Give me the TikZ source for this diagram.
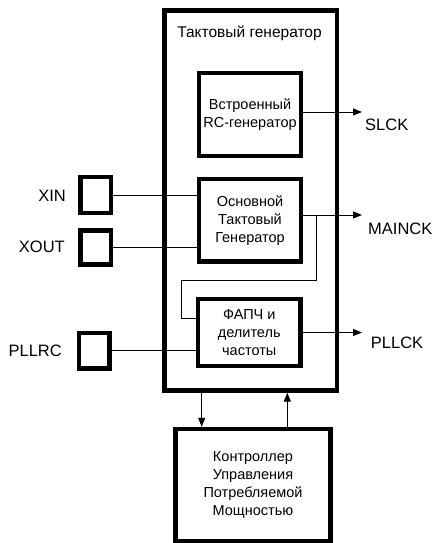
\documentclass[tikz,border=0pt]{standalone}
\usepackage{fontspec}
\setmainfont{Liberation Sans}
\usetikzlibrary{arrows.meta}

\tikzset{
	block/.style={draw, line width=4.3pt, inner sep=0pt, align=center, font=\fontsize{14.5}{18}\selectfont},
	pad/.style={draw, line width=4.3pt, inner sep=0pt, minimum width=30.5pt},
	pin/.style={inner sep=0pt, font=\fontsize{16.5}{20}\selectfont},
	wire/.style={line width=1pt},
	sig/.style={wire, -{Triangle[length=9pt,width=7pt]}}
}

\begin{document}
\begin{tikzpicture}[x=1pt,y=-1pt]
	\useasboundingbox (0,0) rectangle (436,543);
	% clock generator with its blocks
	\node[block, minimum width=172.5pt, minimum height=380pt] (clk) at (250.75,200.5) {};
	\node[font=\fontsize{15.5}{18}\selectfont] (clktitle) at (249.5,33) {Тактовый генератор};
	\node[block, minimum width=102pt, minimum height=83pt] (rc) at (250,114.5) {Встроенный\\RC-генератор};
	\node[block, minimum width=102pt, minimum height=82.5pt] (osc) at (250,220.25) {Основной\\Тактовый\\Генератор};
	\node[block, minimum width=102.5pt, minimum height=67pt] (pll) at (249.25,332.5) {ФАПЧ и\\делитель\\частоты};
	\node[block, minimum width=155pt, minimum height=112pt] (pmc) at (253,485) {Контроллер\\Управления\\Потребляемой\\Мощностью};
	% pads
	\node[pad, minimum height=36pt] (xin) at (95.75,195) {};
	\node[pad, minimum height=34pt] (xout) at (95.75,247.5) {};
	\node[pad, minimum height=35.5pt] (pllrc) at (94.25,350.75) {};
	\node[pin, anchor=east] (xinlabel) at (66,195.5) {XIN};
	\node[pin, anchor=east] (xoutlabel) at (65,247) {XOUT};
	\node[pin, anchor=east] (pllrclabel) at (62,350.5) {PLLRC};
	% outputs
	\node[pin, anchor=west] (slcklabel) at (365,124.5) {SLCK};
	\node[pin, anchor=west] (maincklabel) at (368,229) {MAINCK};
	\node[pin, anchor=west] (pllcklabel) at (370.7,343) {PLLCK};
	\coordinate (slck) at (362,112);
	\coordinate (mainck) at (362,215);
	\coordinate (pllck) at (362,332.5);
	\coordinate (tap) at (316.7,215);
	\coordinate (loop) at (181.7,280.7);
	\coordinate (pllin) at (0,318);
	\coordinate (dn) at (201.7,0);
	\coordinate (up) at (287.3,0);

	\draw[wire] (xin.east) -- (xin.east -| osc.west);
	\draw[wire] (xout.east) -- (xout.east -| osc.west);
	\draw[wire] (pllrc.east) -- (pllrc.east -| pll.west);
	\draw[sig] (rc.east |- slck) -- (slck);
	\draw[sig] (osc.east |- mainck) -- (mainck);
	\draw[sig] (pll.east) -- (pll.east -| pllck);
	\draw[wire] (tap) |- (loop) |- (pll.west |- pllin);
	\draw[sig] (clk.south -| dn) -- (pmc.north -| dn);
	\draw[sig] (pmc.north -| up) -- (clk.south -| up);
\end{tikzpicture}
\end{document}
